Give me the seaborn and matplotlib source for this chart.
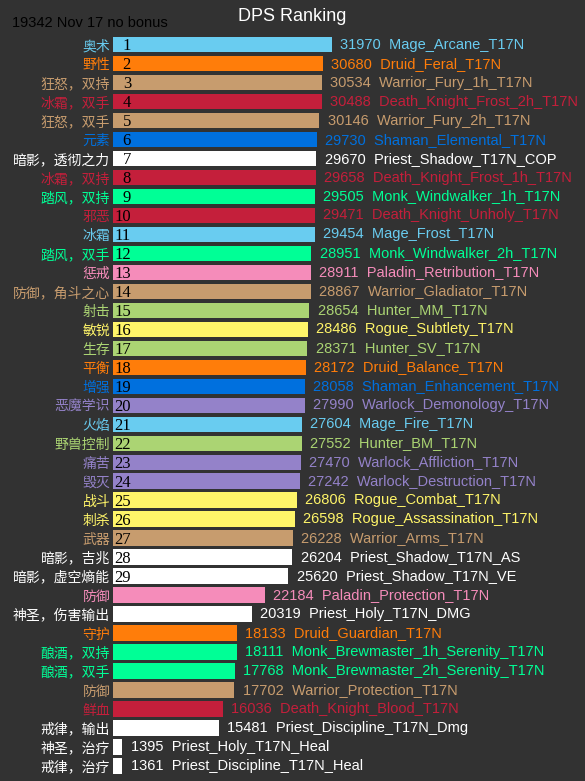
import pandas as pd
import seaborn as sns
import matplotlib.pyplot as plt

# data
ranks = [str(i) for i in range(1, 30)] + [""] * 10
cn_labels = ["奥术", "野性", "狂怒，双持", "冰霜，双手", "狂怒，双手", "元素",
             "暗影，透彻之力", "冰霜，双持", "踏风，双持", "邪恶", "冰霜", "踏风，双手",
             "惩戒", "防御，角斗之心", "射击", "敏锐", "生存", "平衡", "增强", "恶魔学识",
             "火焰", "野兽控制", "痛苦", "毁灭", "战斗", "刺杀", "武器", "暗影，吉兆",
             "暗影，虚空熵能", "防御", "神圣，伤害输出", "守护", "酿酒，双持", "酿酒，双手",
             "防御", "鲜血", "戒律，输出", "神圣，治疗", "戒律，治疗"]
dps = [31970, 30680, 30534, 30488, 30146, 29730, 29670, 29658, 29505, 29471,
       29454, 28951, 28911, 28867, 28654, 28486, 28371, 28172, 28058, 27990,
       27604, 27552, 27470, 27242, 26806, 26598, 26228, 26204, 25620, 22184,
       20319, 18133, 18111, 17768, 17702, 16036, 15481, 1395, 1361]
names = ["Mage_Arcane_T17N", "Druid_Feral_T17N", "Warrior_Fury_1h_T17N",
         "Death_Knight_Frost_2h_T17N", "Warrior_Fury_2h_T17N", "Shaman_Elemental_T17N",
         "Priest_Shadow_T17N_COP", "Death_Knight_Frost_1h_T17N", "Monk_Windwalker_1h_T17N",
         "Death_Knight_Unholy_T17N", "Mage_Frost_T17N", "Monk_Windwalker_2h_T17N",
         "Paladin_Retribution_T17N", "Warrior_Gladiator_T17N", "Hunter_MM_T17N",
         "Rogue_Subtlety_T17N", "Hunter_SV_T17N", "Druid_Balance_T17N",
         "Shaman_Enhancement_T17N", "Warlock_Demonology_T17N", "Mage_Fire_T17N",
         "Hunter_BM_T17N", "Warlock_Affliction_T17N", "Warlock_Destruction_T17N",
         "Rogue_Combat_T17N", "Rogue_Assassination_T17N", "Warrior_Arms_T17N",
         "Priest_Shadow_T17N_AS", "Priest_Shadow_T17N_VE", "Paladin_Protection_T17N",
         "Priest_Holy_T17N_DMG", "Druid_Guardian_T17N", "Monk_Brewmaster_1h_Serenity_T17N",
         "Monk_Brewmaster_2h_Serenity_T17N", "Warrior_Protection_T17N",
         "Death_Knight_Blood_T17N", "Priest_Discipline_T17N_Dmg",
         "Priest_Holy_T17N_Heal", "Priest_Discipline_T17N_Heal"]
classes = ["Mage", "Druid", "Warrior", "DeathKnight", "Warrior", "Shaman", "Priest",
           "DeathKnight", "Monk", "DeathKnight", "Mage", "Monk", "Paladin", "Warrior",
           "Hunter", "Rogue", "Hunter", "Druid", "Shaman", "Warlock", "Mage", "Hunter",
           "Warlock", "Warlock", "Rogue", "Rogue", "Warrior", "Priest", "Priest",
           "Paladin", "Priest", "Druid", "Monk", "Monk", "Warrior", "DeathKnight",
           "Priest", "Priest", "Priest"]
class_colors = {"Mage": "#69CCF0", "Druid": "#FF7D0A", "Warrior": "#C79C6E",
                "DeathKnight": "#C41F3B", "Shaman": "#0070DE", "Priest": "#FFFFFF",
                "Monk": "#00FF96", "Paladin": "#F58CBA", "Hunter": "#ABD473",
                "Rogue": "#FFF569", "Warlock": "#9482C9"}

df = pd.DataFrame({"name": names, "dps": dps, "cls": classes})

sns.set_theme(style="white")
plt.rcParams["font.family"] = ["Liberation Sans", "DejaVu Sans"]
bg = "#323232"

fig = plt.figure(figsize=(5.85, 7.81), dpi=100, facecolor=bg)
ax = fig.add_axes([0.193, 0.007, 0.807, 0.948])
ax.set_facecolor(bg)

sns.barplot(data=df, x="dps", y="name", hue="cls", palette=class_colors,
            dodge=False, legend=False, width=0.82, saturation=1,
            linewidth=0, edgecolor="none", ax=ax)

ax.set_xlim(0, 68900)
ax.set_ylim(len(df) - 0.5, -0.5)
ax.set_xlabel("")
ax.set_ylabel("")
ax.set_xticks([])
ax.set_yticks(range(len(df)))
ax.set_yticklabels(cn_labels, family=["Noto Sans CJK SC", "DejaVu Sans"], fontsize=10)
ax.tick_params(axis="y", length=0, pad=2)
for lab, c in zip(ax.get_yticklabels(), classes):
    lab.set_color(class_colors[c])
sns.despine(ax=ax, left=True, bottom=True)

for i, (v, nm, c, r) in enumerate(zip(dps, names, classes, ranks)):
    col = class_colors[c]
    ax.annotate(f"{v}  {nm}", xy=(v, i), xytext=(6, 0), textcoords="offset points",
                ha="left", va="center", color=col, fontsize=10.5)
    if r:
        ax.annotate(r, xy=(0, i), xytext=(13, -1), textcoords="offset points",
                    ha="right", va="center", color="black", fontsize=12,
                    family="Liberation Serif")

fig.text(0.5, 0.979, "DPS Ranking", ha="center", va="center", color="white", fontsize=13)
fig.text(0.02, 0.970, "19342 Nov 17 no bonus", ha="left", va="center",
         color="black", fontsize=10.5)

fig.savefig("out.png", dpi=100, facecolor=bg)
